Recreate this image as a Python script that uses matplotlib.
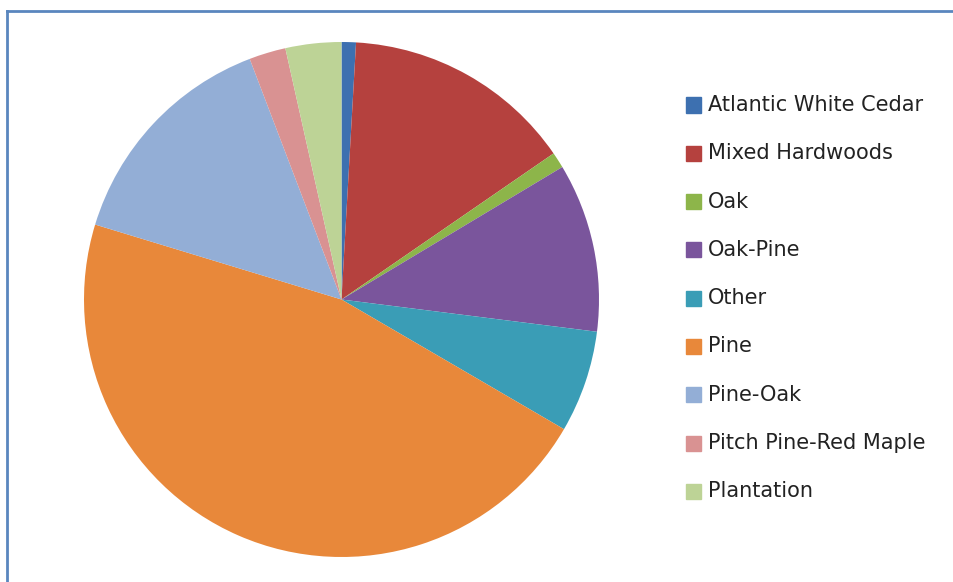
import matplotlib
matplotlib.use("Agg")
import matplotlib.pyplot as plt
from matplotlib.patches import Rectangle
from matplotlib.lines import Line2D

W, H = 954, 582

categories = ["Atlantic White Cedar", "Mixed Hardwoods", "Oak", "Oak-Pine", "Other",
              "Pine", "Pine-Oak", "Pitch Pine-Red Maple", "Plantation"]
shares = [0.9, 14.5, 1.0, 10.6, 6.4, 46.3, 14.5, 2.3, 3.5]
colors = ["#3D70B0", "#B5413E", "#8DB54A", "#7A559C", "#3A9DB6",
          "#E8883A", "#93AED6", "#D99292", "#BDD396"]

fig = plt.figure(figsize=(W / 100, H / 100), dpi=100)
fig.patch.set_facecolor("white")

# pie placed by pixel geometry: centre (341.5, 299.5), radius 257.5
cx, cy, r = 341.5, 299.5, 257.5
ax = fig.add_axes([(cx - r) / W, (H - cy - r) / H, 2 * r / W, 2 * r / H])
ax.pie(shares, colors=colors, startangle=90, counterclock=False, radius=1.0,
       wedgeprops=dict(linewidth=0))
ax.set_xlim(-1, 1)
ax.set_ylim(-1, 1)
ax.set_aspect("equal")
ax.axis("off")

# legend drawn by hand
for i, (name, col) in enumerate(zip(categories, colors)):
    y = 105 + i * 48.3
    fig.patches.append(Rectangle((686 / W, (H - y - 7.5) / H), 15 / W, 15 / H,
                                 transform=fig.transFigure, color=col))
    fig.text(708 / W, (H - y) / H, name, fontsize=15, color="#222222",
             va="center", ha="left", family="DejaVu Sans")

# blue chart frame (top and left edges visible)
fig.lines.append(Line2D([7 / W, 1.0], [(H - 11) / H, (H - 11) / H],
                        transform=fig.transFigure, color="#5A86BE", lw=2))
fig.lines.append(Line2D([7 / W, 7 / W], [0, (H - 11) / H],
                        transform=fig.transFigure, color="#5A86BE", lw=2))

fig.savefig("out.png", dpi=100, facecolor="white")
